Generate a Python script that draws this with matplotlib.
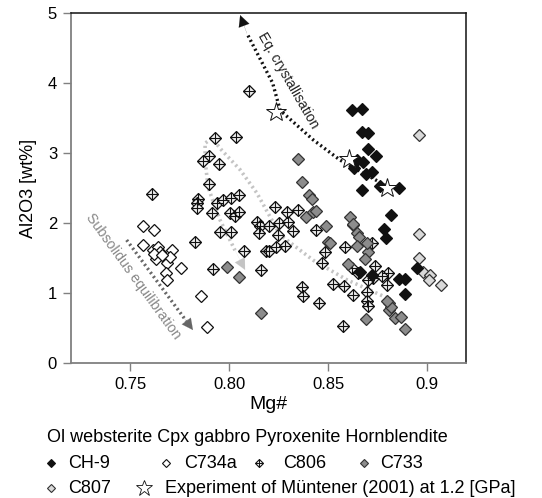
import matplotlib
matplotlib.use("Agg")
import matplotlib.pyplot as plt
from matplotlib.lines import Line2D
import numpy as np

plt.rcParams['font.family'] = ['Liberation Sans', 'DejaVu Sans']

# ---------------- data ----------------
ch9_x = [0.862, 0.867, 0.867, 0.870, 0.870, 0.874, 0.8645, 0.8675, 0.863, 0.869, 0.872,
         0.876, 0.886, 0.867, 0.882, 0.878, 0.879, 0.895, 0.886, 0.889, 0.889, 0.872, 0.866]
ch9_y = [3.61, 3.63, 3.30, 3.28, 3.06, 2.95, 2.90, 2.87, 2.78, 2.70, 2.73,
         2.53, 2.50, 2.47, 2.12, 1.91, 1.78, 1.36, 1.20, 1.20, 0.98, 1.25, 1.30]

c734a_x = [0.7564, 0.7623, 0.7567, 0.7614, 0.7643, 0.765, 0.771, 0.763, 0.7689, 0.770,
           0.7756, 0.768, 0.7685, 0.786, 0.789, 0.762, 0.766]
c734a_y = [1.96, 1.90, 1.68, 1.61, 1.66, 1.59, 1.62, 1.48, 1.43, 1.52,
           1.36, 1.28, 1.18, 0.95, 0.51, 1.55, 1.54]

c806_x = [0.8103, 0.7929, 0.8033, 0.790, 0.787, 0.7948, 0.790, 0.761, 0.7845, 0.7837,
          0.784, 0.7937, 0.797, 0.801, 0.805, 0.7916, 0.8005, 0.803, 0.805, 0.7955,
          0.8009, 0.7828, 0.8077, 0.792, 0.8162, 0.814, 0.8157, 0.815, 0.8204, 0.8232,
          0.8254, 0.8249, 0.830, 0.8321, 0.8291, 0.8346, 0.8187, 0.820, 0.8237, 0.8283,
          0.844, 0.8485, 0.8468, 0.8586, 0.872, 0.837, 0.8375, 0.8456, 0.8527, 0.858,
          0.8628, 0.8695, 0.8699, 0.8704, 0.8574, 0.8805, 0.880, 0.8737, 0.8725, 0.862,
          0.8653, 0.870, 0.877]
c806_y = [3.89, 3.22, 3.23, 2.95, 2.89, 2.84, 2.55, 2.41, 2.34, 2.29,
          2.21, 2.28, 2.33, 2.35, 2.40, 2.14, 2.14, 2.10, 2.16, 1.87,
          1.87, 1.73, 1.60, 1.34, 1.33, 2.02, 1.95, 1.86, 1.95, 2.23,
          2.00, 1.83, 2.02, 1.88, 2.16, 2.19, 1.60, 1.60, 1.66, 1.67,
          1.90, 1.59, 1.43, 1.65, 1.71, 1.08, 0.95, 0.85, 1.13, 1.10,
          0.97, 1.02, 0.88, 0.81, 0.53, 1.29, 1.11, 1.38, 1.22, 1.35,
          1.28, 1.19, 1.24]

c733_x = [0.835, 0.8367, 0.8404, 0.8417, 0.839, 0.8425, 0.844, 0.849, 0.861, 0.8627,
          0.8645, 0.8658, 0.850, 0.851, 0.8648, 0.870, 0.8687, 0.860, 0.8695, 0.881,
          0.8809, 0.882, 0.884, 0.887, 0.889, 0.869, 0.880, 0.799, 0.805, 0.816, 0.8624]
c733_y = [2.92, 2.58, 2.40, 2.34, 2.09, 2.15, 2.17, 1.95, 2.09, 1.97,
          1.85, 1.80, 1.73, 1.71, 1.67, 1.58, 1.49, 1.41, 1.72, 0.85,
          0.76, 0.80, 0.64, 0.66, 0.48, 0.63, 0.88, 1.37, 1.23, 0.71, 1.99]

c807_x = [0.896, 0.896, 0.896, 0.898, 0.9015, 0.901, 0.907]
c807_y = [3.25, 1.84, 1.50, 1.30, 1.26, 1.18, 1.11]

exp_x = [0.8237, 0.8606, 0.880]
exp_y = [3.59, 2.91, 2.50]

# annotation paths
eq_path_x = [0.8813, 0.856, 0.8424, 0.8258, 0.822, 0.809, 0.8056]
eq_path_y = [2.50, 2.90, 3.19, 3.61, 4.00, 4.71, 4.97]
gray_path_x = [0.8798, 0.8594, 0.8424, 0.8258, 0.814, 0.8056, 0.7963, 0.7914, 0.7879,
               0.7879, 0.7894, 0.7955, 0.803, 0.8081]
gray_path_y = [0.93, 1.19, 1.47, 1.83, 2.43, 2.76, 3.04, 3.21, 3.14,
               2.90, 2.51, 2.04, 1.61, 1.33]
sub_path_x = [0.7483, 0.7818]
sub_path_y = [1.757, 0.47]

xticks = [0.75, 0.80, 0.85, 0.90]
xtick_labels = ["0.75", "0.80", "0.85", "0.9"]
yticks = [0, 1, 2, 3, 4, 5]

# ---------------- figure ----------------
fig = plt.figure(figsize=(5.42, 4.98), dpi=100)
ax = fig.add_axes([0.131, 0.2711, 0.729, 0.7028])
ax.set_xlim(0.7202, 0.9197)
ax.set_ylim(0, 5)

ms = 6.0
# paths
ax.plot(gray_path_x[:-1], gray_path_y[:-1], color='#c4c4c4', lw=2.6, ls=(0, (0.6, 0.9)),
        zorder=2)
ax.annotate('', xy=(gray_path_x[-1], gray_path_y[-1]), xytext=(gray_path_x[-2], gray_path_y[-2]),
            arrowprops=dict(arrowstyle='-|>', color='#c4c4c4', lw=0.1, mutation_scale=20,
                            shrinkA=0, shrinkB=0), zorder=2)
ax.plot(eq_path_x[:-1], eq_path_y[:-1], color='#111111', lw=2.4, ls=(0, (0.6, 0.9)),
        zorder=6)
ax.annotate('', xy=(eq_path_x[-1], eq_path_y[-1]), xytext=(eq_path_x[-2], eq_path_y[-2]),
            arrowprops=dict(arrowstyle='-|>', color='#111111', lw=0.1, mutation_scale=20,
                            shrinkA=0, shrinkB=0), zorder=6)
sx = np.array(sub_path_x); sy = np.array(sub_path_y)
ax.plot([sx[0], sx[0] + 0.9 * (sx[1] - sx[0])], [sy[0], sy[0] + 0.9 * (sy[1] - sy[0])],
        color='#666666', lw=2.4, ls=(0, (0.6, 0.9)), zorder=2)
ax.annotate('', xy=(sx[1], sy[1]), xytext=(sx[0] + 0.85 * (sx[1] - sx[0]), sy[0] + 0.85 * (sy[1] - sy[0])),
            arrowprops=dict(arrowstyle='-|>', color='#666666', lw=0.1, mutation_scale=20,
                            shrinkA=0, shrinkB=0), zorder=2)

ax.text(0.8300, 4.04, "Eq. crystallisation", rotation=-60, rotation_mode='anchor',
        ha='center', va='center', fontsize=10, color='#222222', zorder=7)
ax.text(0.7515, 1.24, "Subsolidus equilibration", rotation=-54, rotation_mode='anchor',
        ha='center', va='center', fontsize=10.3, color='#888888', zorder=7)

# markers
ax.plot(c734a_x, c734a_y, 'D', ms=ms, mfc='white', mec='#111111', mew=0.9, ls='none', zorder=3)
ax.plot(c806_x, c806_y, 'D', ms=ms, mfc='#f0f0f0', mec='#111111', mew=0.9, ls='none', zorder=3)
ax.plot(c806_x, c806_y, '+', ms=ms * 1.41, mec='#111111', mew=0.8, ls='none', zorder=3)
ax.plot(c733_x, c733_y, 'D', ms=ms, mfc='#8c8c8c', mec='#333333', mew=0.9, ls='none', zorder=4)
ax.plot(c807_x, c807_y, 'D', ms=ms, mfc='#d9d9d9', mec='#333333', mew=0.9, ls='none', zorder=4)
ax.plot(ch9_x, ch9_y, 'D', ms=ms, mfc='#111111', mec='#111111', mew=0.9, ls='none', zorder=5)
ax.plot(exp_x, exp_y, '*', ms=15, mfc='white', mec='#111111', mew=0.7, ls='none', zorder=8)

# axes styling
for s in ['left', 'bottom']:
    ax.spines[s].set_color('#808080')
    ax.spines[s].set_linewidth(1.3)
for s in ['top', 'right']:
    ax.spines[s].set_color('#111111')
    ax.spines[s].set_linewidth(1.1)
ax.set_xticks(xticks)
ax.set_xticklabels(xtick_labels)
ax.set_yticks(yticks)
ax.tick_params(axis='both', direction='out', length=6, width=1.0, color='#808080',
               labelsize=12, pad=4)
ax.set_xlabel("Mg#", fontsize=14, labelpad=3)
ax.set_ylabel("Al2O3 [wt%]", fontsize=13, labelpad=8)

# custom legend below
W, H = 542.0, 498.0
def fx(px): return px / W
def fy(py): return 1 - py / H

fig.text(fx(46.7), fy(437.7), "Ol websterite Cpx gabbro Pyroxenite Hornblendite",
         fontsize=13, ha='left', va='center')
leg_ms = 4.2
items = [
    (51, 463, 'D', '#111111', '#111111', "CH-9", 68),
    (166, 463, 'D', 'white', '#111111', "C734a", 184),
    (259, 463, 'D', '#f0f0f0', '#111111', "C806", 283),
    (364, 463, 'D', '#8c8c8c', '#333333', "C733", 380),
    (51, 488, 'D', '#d9d9d9', '#333333', "C807", 68),
]
for (mx, my, mk, fc, ec, lab, tx) in items:
    fig.add_artist(Line2D([fx(mx)], [fy(my)], marker=mk, ms=leg_ms, mfc=fc, mec=ec, mew=0.8,
                          ls='none', transform=fig.transFigure))
    if lab == "C806":
        fig.add_artist(Line2D([fx(mx)], [fy(my)], marker='+', ms=leg_ms * 1.41, mec=ec, mew=0.7,
                              ls='none', transform=fig.transFigure))
    fig.text(fx(tx), fy(my), lab, fontsize=13, ha='left', va='center')
fig.add_artist(Line2D([fx(144)], [fy(488)], marker='*', ms=12, mfc='white', mec='#111111',
                      mew=0.6, ls='none', transform=fig.transFigure))
fig.text(fx(165), fy(488), "Experiment of Müntener (2001) at 1.2 [GPa]", fontsize=13,
         ha='left', va='center')

fig.savefig("out.png", dpi=100)
